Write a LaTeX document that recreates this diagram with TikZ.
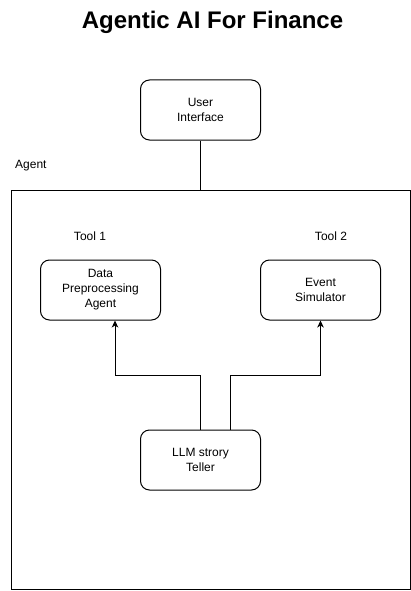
\documentclass[tikz,border=0pt]{standalone}
\usepackage{fontspec}
\setmainfont{Liberation Sans}
\usetikzlibrary{arrows.meta}
\begin{document}
\begin{tikzpicture}[x=1pt,y=-1pt,
  box/.style={draw,line width=1pt,rounded corners=9pt,minimum width=120pt,minimum height=60pt,align=center,font=\fontsize{12pt}{15pt}\selectfont,inner sep=0pt},
  lbl/.style={font=\fontsize{12pt}{15pt}\selectfont,inner sep=0pt},
  conn/.style={line width=1pt},
  arr/.style={line width=1pt,-{Stealth[length=7pt,width=6.5pt,inset=2pt]}}]
\useasboundingbox (0,0) rectangle (411,591);
\node[font=\bfseries\fontsize{24pt}{28pt}\selectfont,inner sep=0pt] (title) at (212.5,22) {Agentic AI For Finance};
\node[draw,line width=1pt,minimum width=399pt,minimum height=399pt,inner sep=0pt] (agent) at (210.5,389.5) {};
\node[lbl,anchor=west] (agentlbl) at (15,166) {Agent};
\node[box] (ui) at (200.5,110) {User\\Interface};
\node[lbl] (tool1) at (90,236) {Tool 1};
\node[lbl] (tool2) at (331,236) {Tool 2};
\node[box] (dpa) at (100.5,290) {Data\\Preprocessing\\Agent};
\node[box] (ev) at (320.5,290) {Event\\Simulator};
\node[box] (llm) at (200.5,460) {LLM strory\\Teller};
\coordinate (bendy) at (200,375);
\draw[conn] (ui.south) -- (agent.north -| ui.south);
\draw[arr] ([xshift=-0.5pt]llm.north) -- ([xshift=-0.5pt]llm.north |- bendy) -- ([xshift=14.5pt]dpa.south |- bendy) -- ([xshift=14.5pt]dpa.south);
\draw[arr] ([xshift=29.5pt]llm.north) -- ([xshift=29.5pt]llm.north |- bendy) -- (ev.south |- bendy) -- (ev.south);
\end{tikzpicture}
\end{document}
